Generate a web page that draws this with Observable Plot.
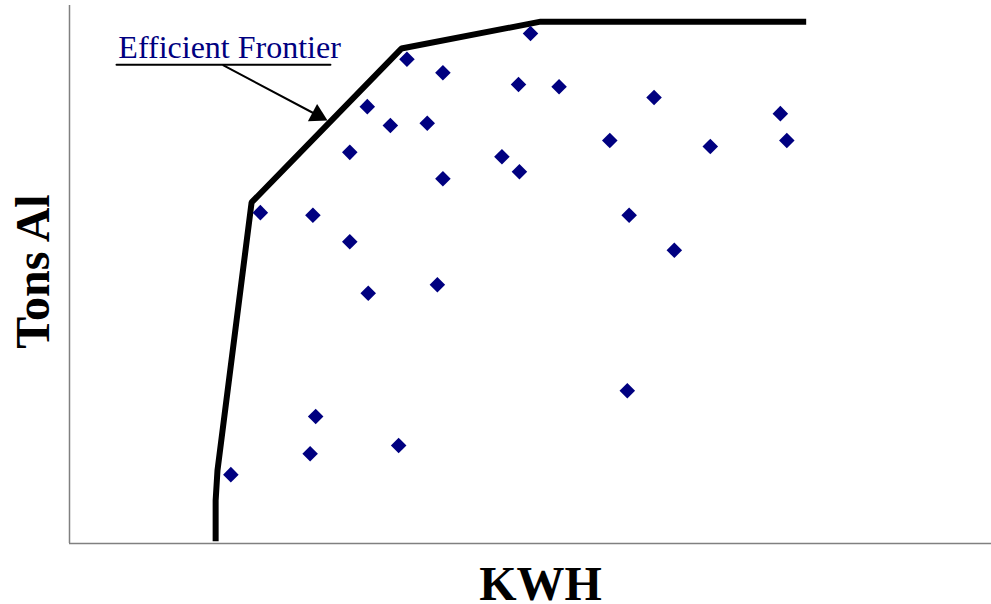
<!DOCTYPE html>
<html>
<head>
<meta charset="utf-8">
<script src="https://cdn.jsdelivr.net/npm/d3@7"></script>
<script src="https://cdn.jsdelivr.net/npm/@observablehq/plot@0.6"></script>
<style>
  html, body { margin: 0; padding: 0; background: #fff; }
  #chart { width: 991px; height: 604px; }
</style>
</head>
<body>
<div id="chart"></div>
<script>
// Plant observations (arbitrary KWH / Tons Al units)
const kwh = [17.5, 20.7, 26.4, 26.7, 26.1, 30.4, 30.4, 32.3, 32.4, 34.8, 35.7, 36.6, 38.8, 40.5, 40.5,
             39.9, 46.9, 48.7, 48.8, 50.0, 53.1, 58.6, 60.7, 60.5, 63.4, 65.6, 69.5, 77.1, 77.8];
const tons = [12.8, 61.5, 61.0, 23.6, 16.7, 72.7, 56.1, 81.2, 46.5, 77.7, 18.2, 90.0, 78.1, 87.5, 67.8,
              48.1, 71.9, 85.3, 69.1, 94.8, 84.9, 74.9, 61.0, 28.4, 82.9, 54.5, 73.8, 79.9, 74.9];

// Efficient frontier vertices
const frontierKwh = [15.85, 15.85, 16.05, 19.75, 36.0, 51.1, 79.9];
const frontierTons = [0.4, 8.0, 13.6, 63.4, 92.0, 97.0, 97.0];

// Annotation
const annotText = ["Efficient Frontier"];
const annotTextPos = [5.3, 90.15];
const underlineKwh = [5.1, 28.3];
const underlineTons = [89.0, 89.0];
const arrowKwh = [16.7, 26.9];
const arrowTons = [88.85, 79.6];
const arrowHead = [26.9, 79.6];

const points = kwh.map((x, i) => ({x, y: tons[i]}));
const frontier = frontierKwh.map((x, i) => ({x, y: frontierTons[i]}));
const underline = underlineKwh.map((x, i) => ({x, y: underlineTons[i]}));
const arrowLine = arrowKwh.map((x, i) => ({x, y: arrowTons[i]}));

const serif = "'Liberation Serif', 'Times New Roman', 'DejaVu Serif', serif";

const chart = Plot.plot({
  width: 991,
  height: 604,
  marginLeft: 69,
  marginRight: 0,
  marginTop: 5,
  marginBottom: 61,
  x: {domain: [0, 100], axis: null},
  y: {domain: [0, 100], axis: null},
  style: {background: "#fff", overflow: "visible"},
  marks: [
    Plot.ruleX([0], {stroke: "#808080", strokeWidth: 1.5}),
    Plot.ruleY([0], {stroke: "#808080", strokeWidth: 1.5}),
    Plot.line(frontier, {x: "x", y: "y", stroke: "#000", strokeWidth: 6, strokeLinejoin: "miter", strokeLinecap: "butt"}),
    Plot.dot(points, {x: "x", y: "y", symbol: "diamond2", r: 7, fill: "#000080", stroke: "none"}),
    Plot.line(underline, {x: "x", y: "y", stroke: "#000", strokeWidth: 2}),
    Plot.line(arrowLine, {x: "x", y: "y", stroke: "#000", strokeWidth: 2}),
    Plot.dot([arrowHead], {x: d => d[0], y: d => d[1], symbol: "triangle", r: 7.3, rotate: 117.85, fill: "#000", stroke: "none"}),
    Plot.text(annotText, {x: annotTextPos[0], y: annotTextPos[1], text: d => d, textAnchor: "start", lineAnchor: "bottom",
      fill: "#000080", fontSize: 32, fontFamily: serif}),
    Plot.text(["KWH"], {frameAnchor: "bottom", text: d => d, dx: 10, dy: 56, textAnchor: "middle", lineAnchor: "bottom",
      fontSize: 48, fontWeight: "bold", fontFamily: serif, fill: "#000"}),
    Plot.text(["Tons Al"], {frameAnchor: "left", text: d => d, dx: -21, dy: -3, rotate: -90, textAnchor: "middle", lineAnchor: "bottom",
      fontSize: 48, fontWeight: "bold", fontFamily: serif, fill: "#000"})
  ]
});
document.getElementById("chart").appendChild(chart);
</script>
</body>
</html>
